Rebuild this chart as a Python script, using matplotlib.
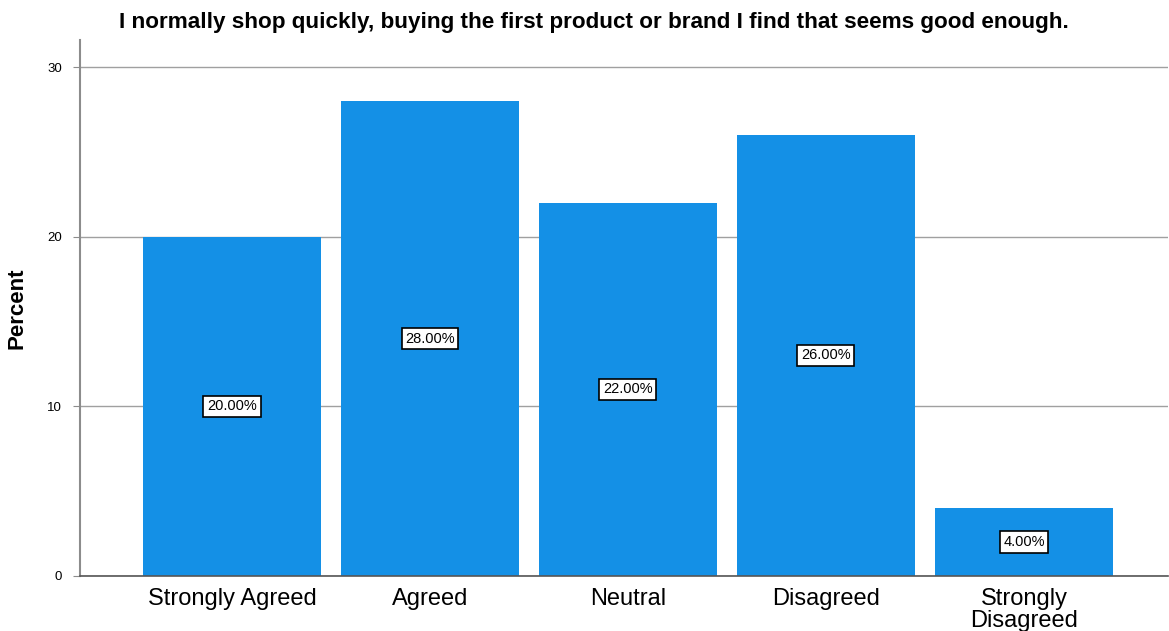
import numpy as np
import matplotlib
matplotlib.use("Agg")
from matplotlib import pyplot as plt

plt.rcParams['font.family'] = ['Liberation Sans', 'DejaVu Sans']

categories = ["Strongly Agreed", "Agreed", "Neutral", "Disagreed", "Strongly\nDisagreed"]
percents = [20.0, 28.0, 22.0, 26.0, 4.0]
y_ticks = [0, 10, 20, 30]
title = "I normally shop quickly, buying the first product or brand I find that seems good enough."

fig = plt.figure(figsize=(11.69, 6.31), dpi=100)
ax = fig.add_axes([0.0684, 0.0872, 0.9306, 0.8494])

x = np.arange(len(categories))
ax.bar(x, percents, width=0.9, color="#1490e6", zorder=2)

for xi, p in zip(x, percents):
    ax.text(xi, p / 2, f"{p:.2f}%", ha="center", va="center", fontsize=10.5, zorder=3,
            bbox=dict(boxstyle="square,pad=0.25", facecolor="white", edgecolor="black", linewidth=1.2))

ax.set_xlim(-0.768, 4.727)
ax.set_ylim(0, 31.6)
ax.set_yticks(y_ticks)
ax.set_yticklabels([str(t) for t in y_ticks], fontsize=9.5)
ax.set_xticks(x)
ax.set_xticklabels(categories, fontsize=17, linespacing=0.95)
ax.tick_params(axis="x", length=0, pad=9)
ax.tick_params(axis="y", length=5, color="#8c8c8c", pad=8)

ax.grid(axis="y", color="#a0a0a0", linewidth=1, zorder=1)
ax.spines["top"].set_visible(False)
ax.spines["right"].set_visible(False)
ax.spines["left"].set_color("#8c8c8c")
ax.spines["left"].set_linewidth(1.5)
ax.spines["bottom"].set_color("#555555")
ax.spines["bottom"].set_linewidth(1.2)

ax.set_ylabel("Percent", fontsize=16, fontweight="bold", labelpad=14)
fig.text(0.508, 0.965, title, ha="center", va="center", fontsize=16.2, fontweight="bold")

plt.savefig("out.png", dpi=100)
plt.close(fig)
